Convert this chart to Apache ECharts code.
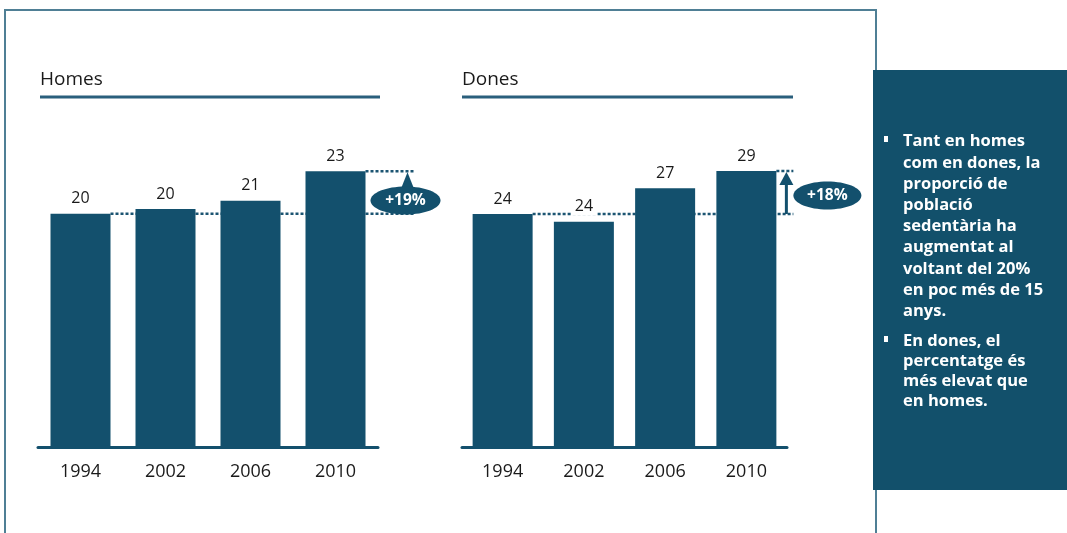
<!DOCTYPE html>
<html><head><meta charset="utf-8">
<script src="https://cdn.jsdelivr.net/npm/echarts@6/dist/echarts.min.js"></script>
<style>html,body{margin:0;padding:0;background:#fff}#c{width:1067px;height:533px}</style>
</head><body><div id="c"></div>
<script>
const years = ['1994', '2002', '2006', '2010'];
const homesValues = [19.7, 20.1, 20.8, 23.3];
const donesValues = [24.4, 23.6, 27.1, 28.9];
const panelTitles = ['Homes', 'Dones'];
const changeLabels = ['+19%', '+18%'];
const noteLines1 = ['Tant en homes', 'com en dones, la', 'proporció de', 'població', 'sedentària ha', 'augmentat al', 'voltant del 20%', 'en poc més de 15', 'anys.'];
const noteLines2 = ['En dones, el', 'percentatge és', 'més elevat que', 'en homes.'];

const TEAL = '#13506d';
const FONT = '"Open Sans", "DejaVu Sans", sans-serif';
const chart = echarts.init(document.getElementById('c'));

function barSeries(data, idx) {
  return {
    type: 'bar', xAxisIndex: idx, yAxisIndex: idx, data: data, barWidth: 60, z: 2,
    itemStyle: { color: TEAL },
    label: { show: true, position: 'top', distance: 6, color: '#1a1a1a', fontSize: 16, fontFamily: FONT,
      backgroundColor: '#fff', padding: [1, 3],
      formatter: p => String(Math.round(p.value)) }
  };
}
function xAx(idx) {
  return { type: 'category', gridIndex: idx, data: years,
    axisLine: { lineStyle: { color: TEAL, width: 3 } }, axisTick: { show: false },
    axisLabel: { color: '#1a1a1a', fontSize: 18, fontFamily: FONT, margin: 16 } };
}
function yAx(idx, max) {
  return { type: 'value', gridIndex: idx, min: 0, max: max, show: false, splitLine: { show: false } };
}

chart.setOption({
  animation: false,
  textStyle: { fontFamily: FONT },
  grid: [
    { left: 38, width: 340, top: 151, bottom: 86 },
    { left: 462, width: 325, top: 151, bottom: 86 }
  ],
  xAxis: [xAx(0), xAx(1)],
  yAxis: [yAx(0, 25), yAx(1, 31)],
  series: [barSeries(homesValues, 0), barSeries(donesValues, 1)]
});

function px(idx, cat, v) {
  return chart.convertToPixel({ xAxisIndex: idx, yAxisIndex: idx }, [cat, v]);
}
const g = [];
g.push({ type: 'rect', shape: { x: 5, y: 10, width: 871, height: 540 }, style: { fill: 'none', stroke: '#4f7f95', lineWidth: 2 }, z: 0 });
const titleX = [40, 462], ulEnd = [380, 793];
panelTitles.forEach((t, i) => {
  g.push({ type: 'text', x: titleX[i], y: 80, style: { text: t, fontSize: 19, fill: '#1a1a1a', fontFamily: FONT, verticalAlign: 'middle' }, z: 5 });
  g.push({ type: 'rect', shape: { x: titleX[i], y: 95.5, width: ulEnd[i] - titleX[i], height: 3 }, style: { fill: '#2a5f7c' }, z: 5 });
});
const dot = { stroke: '#1c5572', lineWidth: 2.5, lineDash: [3, 2] };
(function () {
  const first = px(0, years[0], homesValues[0]);
  const last = px(0, years[3], homesValues[3]);
  const endX = last[0] + 80;
  g.push({ type: 'line', shape: { x1: first[0] + 30, y1: first[1], x2: endX, y2: first[1] }, style: dot, z: 1 });
  g.push({ type: 'line', shape: { x1: last[0] + 30, y1: last[1], x2: endX, y2: last[1] }, style: dot, z: 1 });
  const cx = endX - 10, cy = (first[1] + last[1]) / 2 + 8;
  g.push({ type: 'polygon', shape: { points: [[cx + 2, last[1] + 1], [cx - 6, cy - 8], [cx + 10, cy - 8]] }, style: { fill: TEAL }, z: 6 });
  g.push({ type: 'ellipse', shape: { cx: cx, cy: cy, rx: 35, ry: 14 }, style: { fill: TEAL }, z: 6 });
  g.push({ type: 'text', x: cx, y: cy, style: { text: changeLabels[0], fill: '#fff', fontSize: 15.5, fontWeight: 'bold', fontFamily: FONT, align: 'center', verticalAlign: 'middle' }, z: 7 });
})();
(function () {
  const first = px(1, years[0], donesValues[0]);
  const last = px(1, years[3], donesValues[3]);
  const endX = last[0] + 47;
  g.push({ type: 'line', shape: { x1: first[0] + 30, y1: first[1], x2: endX, y2: first[1] }, style: dot, z: 1 });
  g.push({ type: 'line', shape: { x1: last[0] + 30, y1: last[1], x2: endX, y2: last[1] }, style: dot, z: 1 });
  const ax = endX - 7;
  g.push({ type: 'line', shape: { x1: ax, y1: first[1], x2: ax, y2: last[1] + 10 }, style: { stroke: TEAL, lineWidth: 3 }, z: 6 });
  g.push({ type: 'polygon', shape: { points: [[ax, last[1] + 1], [ax - 7, last[1] + 14], [ax + 7, last[1] + 14]] }, style: { fill: TEAL }, z: 6 });
  const cx = endX + 34, cy = (first[1] + last[1]) / 2 + 3;
  g.push({ type: 'ellipse', shape: { cx: cx, cy: cy, rx: 34, ry: 14 }, style: { fill: TEAL }, z: 6 });
  g.push({ type: 'text', x: cx, y: cy, style: { text: changeLabels[1], fill: '#fff', fontSize: 15.5, fontWeight: 'bold', fontFamily: FONT, align: 'center', verticalAlign: 'middle' }, z: 7 });
})();
g.push({ type: 'rect', shape: { x: 873, y: 70, width: 200, height: 420 }, style: { fill: '#12506b' }, z: 8 });
function block(lines, y0, lh) {
  g.push({ type: 'rect', shape: { x: 884, y: y0 - 6, width: 4, height: 6 }, style: { fill: '#fff' }, z: 9 });
  g.push({ type: 'text', x: 903, y: y0 - 11, style: { text: lines.join('\n'), fill: '#fff', fontSize: 16.5, fontWeight: 'bold', lineHeight: lh, fontFamily: FONT, verticalAlign: 'top' }, z: 9 });
}
block(noteLines1, 142, 21.2);
block(noteLines2, 342, 20.2);
chart.setOption({ graphic: { elements: g } });
</script></body></html>
